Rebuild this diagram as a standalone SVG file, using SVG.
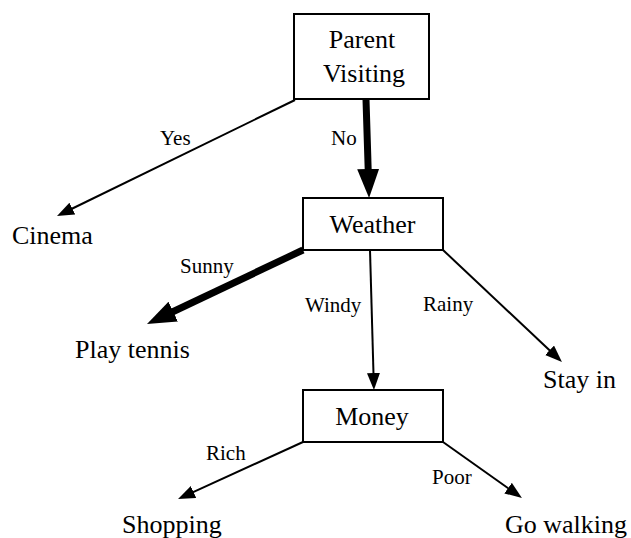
<svg xmlns="http://www.w3.org/2000/svg" width="631" height="538" viewBox="0 0 631 538">
<style>
.box{fill:#fff;stroke:#000;stroke-width:2}
text{font-family:'Liberation Serif','Times New Roman',Times,'DejaVu Serif',serif;fill:#000}
.big{font-size:26px}
.lbl{font-size:21px}
.thin{stroke:#000;stroke-width:2;fill:none;marker-end:url(#ah)}
.thick{stroke:#000;stroke-width:7;fill:none;marker-end:url(#ahb)}
</style>
<defs>
<marker id="ah" markerUnits="userSpaceOnUse" markerWidth="18" markerHeight="14" refX="1" refY="6.5" orient="auto">
<path d="M0,0 L17,6.5 L0,13 z" fill="#000"/>
</marker>
<marker id="ahb" markerUnits="userSpaceOnUse" markerWidth="30" markerHeight="24" refX="1" refY="11" orient="auto">
<path d="M0,0 L29,11 L0,22 z" fill="#000"/>
</marker>
</defs>
<rect width="631" height="538" fill="#fff"/>
<g id="connectors">
<line class="thin" x1="295" y1="100" x2="71.4" y2="209"/>
<line class="thick" x1="366" y1="99" x2="368.2" y2="170"/>
<line class="thick" x1="303" y1="250" x2="172.3" y2="312"/>
<line class="thin" x1="370" y1="250" x2="373.5" y2="374"/>
<line class="thin" x1="443" y1="250" x2="550.3" y2="351"/>
<line class="thin" x1="303" y1="442" x2="192.6" y2="492.4"/>
<line class="thin" x1="443" y1="442" x2="508.9" y2="488.7"/>
<text class="lbl" x="160" y="145" font-family="Liberation Serif, serif">Yes</text>
<text class="lbl" x="331" y="145" font-family="Liberation Serif, serif">No</text>
<text class="lbl" x="180" y="273" font-family="Liberation Serif, serif">Sunny</text>
<text class="lbl" x="305" y="312" font-family="Liberation Serif, serif">Windy</text>
<text class="lbl" x="423" y="311" font-family="Liberation Serif, serif">Rainy</text>
<text class="lbl" x="206" y="460" font-family="Liberation Serif, serif">Rich</text>
<text class="lbl" x="432" y="484" font-family="Liberation Serif, serif">Poor</text>
</g>
<g id="parent">
<rect class="box" x="294" y="14" width="135" height="85"/>
<text class="big" x="362" y="48" text-anchor="middle">Parent</text>
<text class="big" x="364" y="82" text-anchor="middle">Visiting</text>
</g>
<g id="weather">
<rect class="box" x="303" y="198" width="140" height="52"/>
<text class="big" x="372.5" y="233" text-anchor="middle">Weather</text>
</g>
<g id="money">
<rect class="box" x="303" y="390" width="140" height="52"/>
<text class="big" x="372" y="425" text-anchor="middle">Money</text>
</g>
<g id="cinema"><text class="big" x="12" y="244">Cinema</text></g>
<g id="playtennis"><text class="big" x="75" y="358">Play tennis</text></g>
<g id="stayin"><text class="big" x="543" y="388">Stay in</text></g>
<g id="shopping"><text class="big" x="122" y="533">Shopping</text></g>
<g id="gowalking"><text class="big" x="505" y="533">Go walking</text></g>
</svg>
